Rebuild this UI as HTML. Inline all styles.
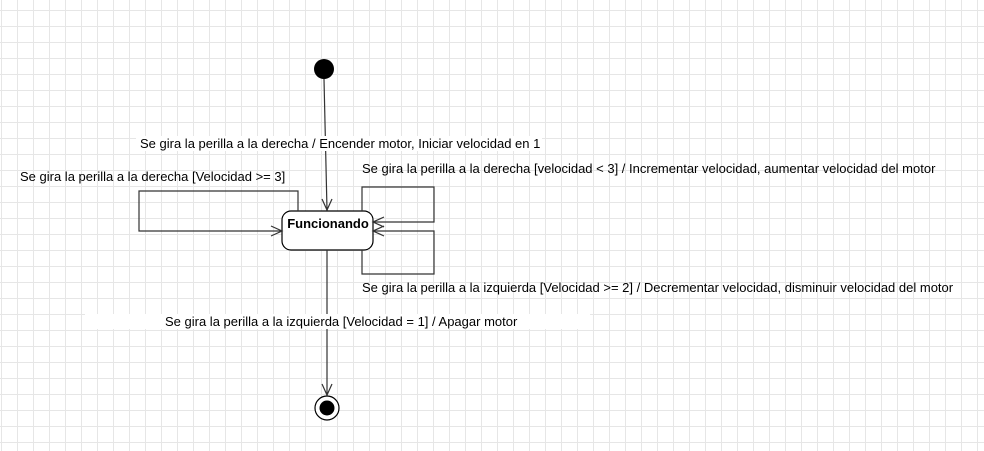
<!DOCTYPE html>
<html><head><meta charset="utf-8"><style>
html,body{margin:0;padding:0;background:#fff;}
body{width:984px;height:451px;overflow:hidden;position:relative;
background-image:linear-gradient(to right,#e6e6e6 1px,transparent 1px),linear-gradient(to bottom,#e6e6e6 1px,transparent 1px);
background-size:16px 16px;background-position:1px 10px;}
svg{position:absolute;left:0;top:0;}
.t{font-family:"Liberation Sans",sans-serif;font-size:13px;fill:#000;}
</style></head><body>
<svg width="984" height="451" viewBox="0 0 984 451">
<g fill="none" stroke="#333" stroke-width="1.2">
<line x1="324" y1="79" x2="327" y2="210"/>
<polyline points="322,199 327,210 332,199"/>
<rect x="282" y="211" width="91" height="39" rx="9" fill="#fff" stroke="#000"/>
<polyline points="298,211 298,191 139,191 139,231 282,231"/>
<polyline points="271,226 282,231 271,236"/>
<polyline points="362,211 362,187 434,187 434,222 373,222"/>
<polyline points="384,217 373,222 384,227"/>
<polyline points="362,250 362,274 434,274 434,231 373,231"/>
<polyline points="384,226 373,231 384,236"/>
<line x1="327" y1="250" x2="327" y2="395"/>
<polyline points="322,384 327,395 332,384"/>
</g>
<circle cx="324" cy="69" r="10" fill="#000"/>
<circle cx="327" cy="408" r="12" fill="#fff" stroke="#000" stroke-width="1.2"/>
<circle cx="327" cy="408" r="7.5" fill="#000"/>
<rect x="136" y="136" width="406" height="15" fill="#fff"/>
<rect x="85" y="314" width="505" height="15" fill="#fff"/>
<text class="t" x="140" y="148">Se gira la perilla a la derecha / Encender motor, Iniciar velocidad en 1</text>
<text class="t" x="20" y="181">Se gira la perilla a la derecha [Velocidad &gt;= 3]</text>
<text class="t" x="362" y="173">Se gira la perilla a la derecha [velocidad &lt; 3] / Incrementar velocidad, aumentar velocidad del motor</text>
<text class="t" x="362" y="292">Se gira la perilla a la izquierda [Velocidad &gt;= 2] / Decrementar velocidad, disminuir velocidad del motor</text>
<text class="t" x="165" y="326">Se gira la perilla a la izquierda [Velocidad = 1] / Apagar motor</text>
<text class="t" x="328" y="228" text-anchor="middle" font-weight="bold">Funcionando</text>
</svg>
</body></html>
